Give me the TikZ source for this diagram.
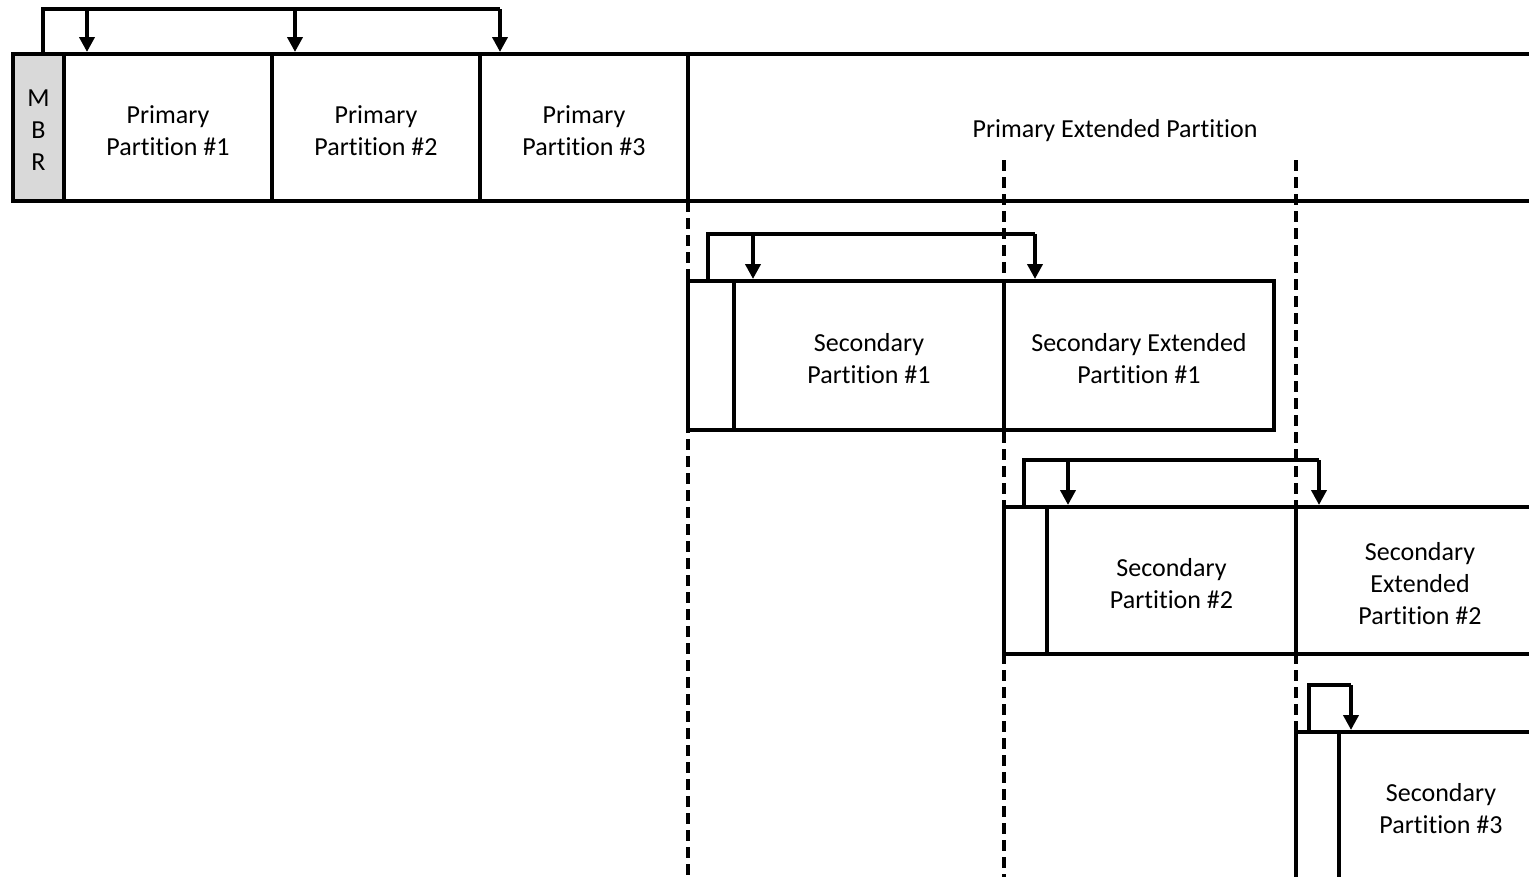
\documentclass[tikz,border=0pt]{standalone}
\usepackage{fontspec}
\setmainfont{Carlito}[Ligatures=NoCommon]
\usetikzlibrary{arrows.meta}
\definecolor{mbrgray}{HTML}{D9D9D9}
\begin{document}
\begin{tikzpicture}[x=1pt,y=-1pt,
  cell/.style={draw, line width=4.7pt, inner sep=0pt, outer sep=0pt},
  caption/.style={align=center, inner sep=0pt, yshift=-3pt,
    font=\fontsize{26}{32}\selectfont},
  link/.style={line width=3.8pt, line join=miter},
  tip/.style={link, -{Triangle[width=15pt,length=15pt]}, shorten >=2pt},
  guide/.style={line width=3.2pt, dash pattern=on 11pt off 6pt}]
\useasboundingbox (0,0) rectangle (1529,876);
\clip (0,0) rectangle (1529,876);

% dashed boundaries of the nested extended partitions
\coordinate (g1t) at (688,201);  \coordinate (g1b) at (688,890);
\coordinate (g2t) at (1004,160); \coordinate (g2b) at (1004,890);
\coordinate (g3t) at (1296,160); \coordinate (g3b) at (1296,890);
\draw[guide] (g1t) -- (g1b);
\draw[guide] (g2t) -- (g2b);
\draw[guide] (g3t) -- (g3b);

% disk layout
\node[cell, fill=mbrgray, minimum width=51pt, minimum height=147pt,
  label={[caption]center:M\\B\\R}] (mbr) at (38.5,127.5) {};
\node[cell, minimum width=208pt, minimum height=147pt,
  label={[caption]center:Primary\\Partition \#1}] (pp1) at (168,127.5) {};
\node[cell, minimum width=208pt, minimum height=147pt,
  label={[caption]center:Primary\\Partition \#2}] (pp2) at (376,127.5) {};
\node[cell, minimum width=208pt, minimum height=147pt,
  label={[caption]center:Primary\\Partition \#3}] (pp3) at (584,127.5) {};
\node[cell, minimum width=854pt, minimum height=147pt,
  label={[caption]center:Primary Extended Partition}] (pext) at (1115,127.5) {};

% first extended partition
\node[cell, minimum width=46pt, minimum height=149pt] (e1) at (711,355.5) {};
\node[cell, minimum width=270pt, minimum height=149pt,
  label={[caption]center:Secondary\\Partition \#1}] (sp1) at (869,355.5) {};
\node[cell, minimum width=270pt, minimum height=149pt,
  label={[caption]center:Secondary Extended\\Partition \#1}] (se1) at (1139,355.5) {};

% second extended partition
\node[cell, minimum width=43pt, minimum height=147pt] (e2) at (1025.5,580.5) {};
\node[cell, minimum width=249pt, minimum height=147pt,
  label={[caption]center:Secondary\\Partition \#2}] (sp2) at (1171.5,580.5) {};
\node[cell, minimum width=248pt, minimum height=147pt,
  label={[caption]center:Secondary\\Extended\\Partition \#2}] (se2) at (1420,580.5) {};

% third extended partition
\node[cell, minimum width=43pt, minimum height=152pt] (e3) at (1317.5,808) {};
\node[cell, minimum width=204pt, minimum height=152pt,
  label={[caption, yshift=2pt]center:Secondary\\Partition \#3}] (sp3) at (1441,808) {};

% partition table pointers: levels of the horizontal runs
\coordinate (h0) at (0,9);
\coordinate (h1) at (0,234);
\coordinate (h2) at (0,460);
\coordinate (h3) at (0,685);

% start points (on each table) and targets (partition starts)
\coordinate (s0) at ([xshift=30pt]mbr.north west);
\coordinate (t01) at ([xshift=23pt]pp1.north west);
\coordinate (t02) at ([xshift=23pt]pp2.north west);
\coordinate (t03) at ([xshift=20pt]pp3.north west);
\coordinate (s1) at ([xshift=20pt]e1.north west);
\coordinate (t11) at ([xshift=19pt]sp1.north west);
\coordinate (t12) at ([xshift=31pt]se1.north west);
\coordinate (s2) at ([xshift=20pt]e2.north west);
\coordinate (t21) at ([xshift=21pt]sp2.north west);
\coordinate (t22) at ([xshift=23pt]se2.north west);
\coordinate (s3) at ([xshift=13pt]e3.north west);
\coordinate (t31) at ([xshift=12pt]sp3.north west);

\draw[link] (s0) |- (h0 -| t03);
\draw[tip] (h0 -| t01) -- (t01);
\draw[tip] (h0 -| t02) -- (t02);
\draw[tip] (h0 -| t03) -- (t03);

\draw[link] (s1) |- (h1 -| t12);
\draw[tip] (h1 -| t11) -- (t11);
\draw[tip] (h1 -| t12) -- (t12);

\draw[link] (s2) |- (h2 -| t22);
\draw[tip] (h2 -| t21) -- (t21);
\draw[tip] (h2 -| t22) -- (t22);

\draw[link] (s3) |- (h3 -| t31);
\draw[tip] (h3 -| t31) -- (t31);
\end{tikzpicture}
\end{document}
